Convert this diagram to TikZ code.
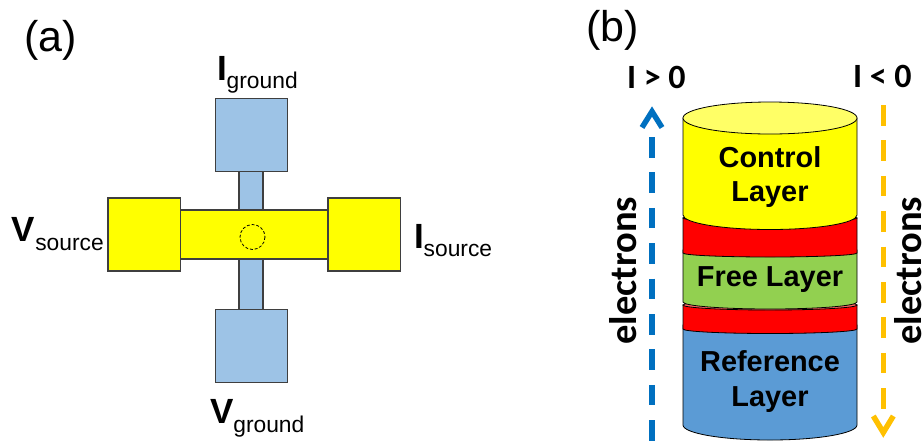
\documentclass[tikz,border=0pt]{standalone}
\usepackage{fontspec}
\setmainfont{Liberation Sans}
\newfontfamily\calib{Carlito}
\newcommand{\pxf}[1]{\fontsize{\dimexpr#1pt*3/4\relax}{\dimexpr#1pt*9/10\relax}\selectfont}
\newcommand{\termlab}[3]{{\pxf{35}\bfseries #1}{\pxf{22.8}\raisebox{-#3pt}{#2}}}
\definecolor{padblue}{HTML}{9DC3E6}
\definecolor{layblue}{HTML}{5B9BD5}
\definecolor{laygreen}{HTML}{92D050}
\definecolor{arrblue}{HTML}{0070C0}
\definecolor{arrgold}{HTML}{FFC000}
\definecolor{edge}{HTML}{3F3F3F}
\definecolor{pureyellow}{HTML}{FFFF00}
\definecolor{paleyellow}{HTML}{FFFF66}
\definecolor{purered}{HTML}{FF0000}
\definecolor{palered}{HTML}{FF6666}
\tikzset{
  x=0.75pt,y=-0.75pt,
  pad/.style={draw=edge,line width=0.8pt},
  lay/.style={draw=black,line width=0.6pt},
  txt/.style={inner sep=0pt,outer sep=0pt,anchor=base west},
  laylab/.style={inner sep=0pt,outer sep=0pt,anchor=base,font=\pxf{28.9}\bfseries},
  flow/.style={line width=4.1pt,dash pattern=on 15.4pt off 11.15pt},
  tip/.style={line width=4.1pt,miter limit=10},
}
\begin{document}
\begin{tikzpicture}
\useasboundingbox (0,0) rectangle (923,440);
% panel (a)
\draw[pad,fill=padblue] (239,165) rectangle (263,315);
\draw[pad,fill=padblue] (215.5,98.5) rectangle (287.5,171.5);
\draw[pad,fill=padblue] (215.5,309.5) rectangle (287.5,382.5);
\draw[pad,fill=pureyellow] (180.5,210) rectangle (328,259);
\draw[pad,fill=pureyellow] (108,198) rectangle (180.5,271);
\draw[pad,fill=pureyellow] (328,198) rectangle (400.5,271);
\draw[black,line width=0.6pt,dash pattern=on 2.2pt off 1.4pt] (252.5,237) circle[radius=12.5];
\node[txt] (lblA) at (24,51) {\pxf{43}(a)};
\node[txt] (ignd) at (217,80) {\termlab{I}{ground}{6.5}};
\node[txt] (vgnd) at (210,423.5) {\termlab{V}{ground}{6.5}};
\node[txt] (vsrc) at (12,241.7) {\termlab{V}{source}{6.5}};
\node[txt] (isrc) at (414,248) {\termlab{I}{source}{6.5}};
% panel (b): stack, bottom layer first
\draw[lay,fill=layblue] (683,325) -- (683,425) arc[start angle=180,end angle=360,x radius=87,y radius=-15] -- (857,325) -- cycle;
\draw[lay,fill=purered] (683,305) -- (683,329) arc[start angle=180,end angle=360,x radius=87,y radius=-4.5] -- (857,305) -- cycle;
\draw[lay,fill=palered] (770,305) ellipse[x radius=87,y radius=5];
\draw[lay,fill=laygreen] (683,250) -- (683,302) arc[start angle=180,end angle=360,x radius=87,y radius=-7] -- (857,250) -- cycle;
\draw[lay,fill=purered] (683,218) -- (683,253) arc[start angle=180,end angle=360,x radius=87,y radius=-4] -- (857,218) -- cycle;
\draw[lay,fill=palered] (770,218) ellipse[x radius=87,y radius=4];
\draw[lay,fill=pureyellow] (683,118) -- (683,215) arc[start angle=180,end angle=360,x radius=87,y radius=-14.5] -- (857,118) -- cycle;
\draw[lay,fill=paleyellow] (770,118) ellipse[x radius=87,y radius=16];
\node[laylab] (ctl1) at (770,167) {Control};
\node[laylab] (ctl2) at (770,201.7) {Layer};
\node[laylab] (fre) at (770,286.7) {Free Layer};
\node[laylab] (ref1) at (770,371.7) {Reference};
\node[laylab] (ref2) at (770,406.7) {Layer};
% current arrows
\draw[flow,arrblue] (652,137) -- (652,445);
\draw[tip,arrblue] (642,127.5) -- (652,111.5) -- (662,127.5);
\draw[flow,arrgold] (883.3,105) -- (883.3,409);
\draw[tip,arrgold] (873.3,416) -- (883.3,432.5) -- (893.3,416);
\node[txt,font=\calib\pxf{34}\bfseries] (ipos) at (627,88) {I > 0};
\node[txt,font=\calib\pxf{34}\bfseries] (ineg) at (853,87) {I < 0};
\node[txt,font=\calib\pxf{38.5}\bfseries,rotate=90] (elL) at (636,344.5) {electrons};
\node[txt,font=\calib\pxf{38.5}\bfseries,rotate=90] (elR) at (921,344.5) {electrons};
\node[txt] (lblB) at (586,41.7) {\pxf{43}(b)};
\end{tikzpicture}
\end{document}
